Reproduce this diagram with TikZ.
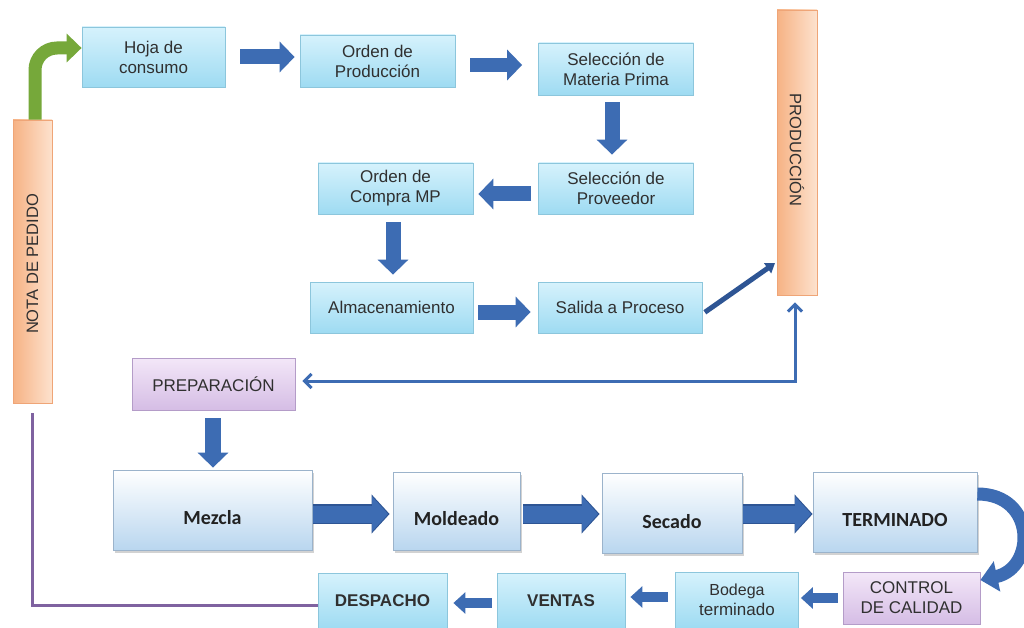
\documentclass[tikz,border=0pt]{standalone}
\usepackage{fontspec}
\setmainfont{Liberation Sans}
\newfontfamily\carlfont{Carlito}
\usetikzlibrary{arrows.meta,shadows,calc}
\definecolor{txt}{HTML}{303030}
\definecolor{cyT}{HTML}{D6F2FC}
\definecolor{cyB}{HTML}{9EDBF2}
\definecolor{cyD}{HTML}{8CC6DC}
\definecolor{wbB}{HTML}{B9D6EF}
\definecolor{wbD}{HTML}{9BB3CB}
\definecolor{puT}{HTML}{F3E7F8}
\definecolor{puB}{HTML}{D5BDE5}
\definecolor{puD}{HTML}{B49CC8}
\definecolor{orL}{HTML}{F6B284}
\definecolor{orR}{HTML}{FDE2CE}
\definecolor{orD}{HTML}{EFA577}
\definecolor{arr}{HTML}{3D6CB3}
\definecolor{arrD}{HTML}{2E5594}
\definecolor{pline}{HTML}{7F62A0}
\definecolor{garr}{HTML}{76A83A}
\tikzset{
  cybox/.style={draw=cyD, line width=0.8pt, top color=cyT, bottom color=cyB, text=txt,
    align=center, font=\fontsize{17}{20}\selectfont, inner sep=0pt},
  wbox/.style={draw=wbD, line width=0.8pt, top color=white, bottom color=wbB, text=txt!70!black,
    align=center, font=\carlfont\bfseries\fontsize{20}{22}\selectfont, inner sep=0pt,
    text height=28pt, text depth=0pt,
    drop shadow={shadow xshift=1.5pt, shadow yshift=-2.5pt, opacity=.35}},
  pubox/.style={draw=puD, line width=0.8pt, top color=puT, bottom color=puB, text=txt,
    align=center, font=\fontsize{17}{20}\selectfont, inner sep=0pt},
  orbar/.style={draw=orD, line width=0.8pt, left color=orL, right color=orR, text=txt,
    font=\fontsize{16.5}{19}\selectfont, inner sep=0pt},
  bigarrow/.style={draw=arr, line width=15pt, -{Triangle[width=30pt,length=15pt]}},
  fatarrow/.style={draw=arr, line width=17pt, -{Triangle[width=34pt,length=16pt]}},
  fatedge/.style={draw=arrD, line width=20pt, -{Triangle[width=38pt,length=18pt]}},
  smallarrow/.style={draw=arr, line width=10pt, -{Triangle[width=21pt,length=12pt]}},
  thinarrow/.style={draw=arrD, line width=5pt, -{Triangle[width=12pt,length=9pt]}},
  openline/.style={draw=arr, line width=3pt, {Straight Barb[width=14pt,length=7pt]}-{Straight Barb[width=14pt,length=7pt]}},
}
\begin{document}
\begin{tikzpicture}[x=1pt,y=-1pt]
\path[fill=white] (0,0) rectangle (1024,628);
\useasboundingbox (0,0) rectangle (1024,628);

% upper boxes
\node[cybox, minimum width=143pt, minimum height=60pt] (hoja) at (153.5,57) {Hoja de\\consumo};
\node[cybox, minimum width=155pt, minimum height=52pt] (orden) at (377.5,61) {Orden de\\Producción};
\node[cybox, minimum width=155pt, minimum height=52pt] (materia) at (616,69) {Selección de\\Materia Prima};
\node[cybox, minimum width=155pt, minimum height=51pt] (proveedor) at (616,188.5) {Selección de\\Proveedor};
\node[cybox, minimum width=155pt, minimum height=51pt] (compra) at (395.5,188.5) {Orden de\\Compra MP};
\node[cybox, minimum width=163pt, minimum height=51pt] (almacen) at (391.5,307.5) {Almacenamiento};
\node[cybox, minimum width=164pt, minimum height=51pt] (salida) at (620,307.5) {Salida a Proceso};

% bars
\node[orbar, minimum width=40pt, minimum height=285pt] (produccion) at (797,152.5) {};
\node[rotate=-90, text=txt, font=\fontsize{16.5}{19}\selectfont] (prodtxt) at (797,150) {PRODUCCIÓN};
\node[orbar, minimum width=39pt, minimum height=283pt] (nota) at (32.5,261.5) {};
\node[rotate=90, text=txt, font=\fontsize{16.5}{19}\selectfont] (notatxt) at (32.5,264) {NOTA DE PEDIDO};

% preparation
\node[pubox, minimum width=163pt, minimum height=52pt] (prep) at (213.5,384) {PREPARACIÓN};

% lower big boxes
\node[wbox, minimum width=199pt, minimum height=80pt] (mezcla) at (212.5,510) {Mezcla};
\node[wbox, minimum width=127pt, minimum height=78pt] (moldeado) at (456.5,511) {Moldeado};
\node[wbox, minimum width=140pt, minimum height=80pt, text height=30pt] (secado) at (672,513) {Secado};
\node[wbox, minimum width=164pt, minimum height=80pt] (terminado) at (895,512) {TERMINADO};

% bottom row
\node[pubox, minimum width=137pt, minimum height=52pt] (control) at (911.5,598) {CONTROL\\DE CALIDAD};
\node[cybox, minimum width=123pt, minimum height=56pt] (bodega) at (737,600) {\fontsize{16}{19}\selectfont Bodega\\terminado};
\node[cybox, minimum width=128pt, minimum height=56pt, font=\bfseries\fontsize{17}{20}\selectfont] (ventas) at (561,601) {VENTAS};
\node[cybox, minimum width=129pt, minimum height=56pt, font=\bfseries\fontsize{17}{20}\selectfont] (despacho) at (382.5,601) {DESPACHO};

% upper arrows
\draw[bigarrow, shorten <=15pt, shorten >=5pt] (hoja.east) -- (orden.west |- hoja.east);
\draw[bigarrow, line width=14pt, shorten <=15pt, shorten >=16pt] (orden.east |- 0,65) -- (materia.west |- 0,65);
\draw[bigarrow, shorten <=7pt, shorten >=8pt] (materia.south -| 612,0) -- (proveedor.north -| 612,0);
\draw[bigarrow, shorten <=7pt, shorten >=5pt] (proveedor.west |- 0,194) -- (compra.east |- 0,194);
\draw[bigarrow, shorten <=8pt, shorten >=7pt] (compra.south -| 393,0) -- (almacen.north -| 393,0);
\draw[bigarrow, shorten <=5pt, shorten >=7pt] (almacen.east |- 0,312) -- (salida.west |- 0,312);
\draw[thinarrow, shorten <=3pt, shorten >=2pt] (salida.east |- 0,314) -- (produccion.west |- 0,262);

% production <-> preparation
\coordinate (pcorner) at (795,381);
\draw[openline, shorten <=7pt, shorten >=7pt] (prep.east |- pcorner) -- (pcorner) -- (produccion.south -| pcorner);

% prep -> mezcla
\draw[bigarrow, line width=16pt, shorten <=8pt, shorten >=2pt] (prep.south -| 213,0) -- (mezcla.north -| 213,0);

% lower arrows
\foreach \a/\b/\s/\e in {mezcla/moldeado/1/3, moldeado/secado/3/2, secado/terminado/1/0}{
  \draw[fatedge, shorten <=\s pt, shorten >=\e pt] (\a.east |- 0,514) -- (\b.west |- 0,514);
  \draw[fatarrow, shorten <=\s pt, shorten >=\e pt+1.5pt] (\a.east |- 0,514) -- (\b.west |- 0,514);
}

% curved arrow terminado -> control
\draw[draw=arr, line width=13pt, -{Triangle[width=30pt,length=17pt]}]
  (terminado.east |- 0,494) .. controls (1036,494) and (1036,568) .. (control.east |- 0,580);

% bottom arrows
\draw[smallarrow, shorten <=5pt, shorten >=2pt] (control.west |- 0,598) -- (bodega.east |- 0,598);
\draw[smallarrow, shorten <=7pt, shorten >=5pt] (bodega.west |- 0,597) -- (ventas.east |- 0,597);
\draw[smallarrow, shorten <=5pt, shorten >=6pt] (ventas.west |- 0,603) -- (despacho.east |- 0,603);

% purple return line
\coordinate (pl) at (32,605);
\draw[pline, line width=3pt, shorten >=10pt] (despacho.west |- pl) -- (pl) -- (nota.south -| pl);

% green arrow
\coordinate (gturn) at (35,48);
\draw[garr, line width=13pt, rounded corners=22pt, -{Triangle[width=28pt,length=15pt]}]
  (nota.north -| gturn) -- (gturn) -- (hoja.west |- gturn);
\end{tikzpicture}
\end{document}
